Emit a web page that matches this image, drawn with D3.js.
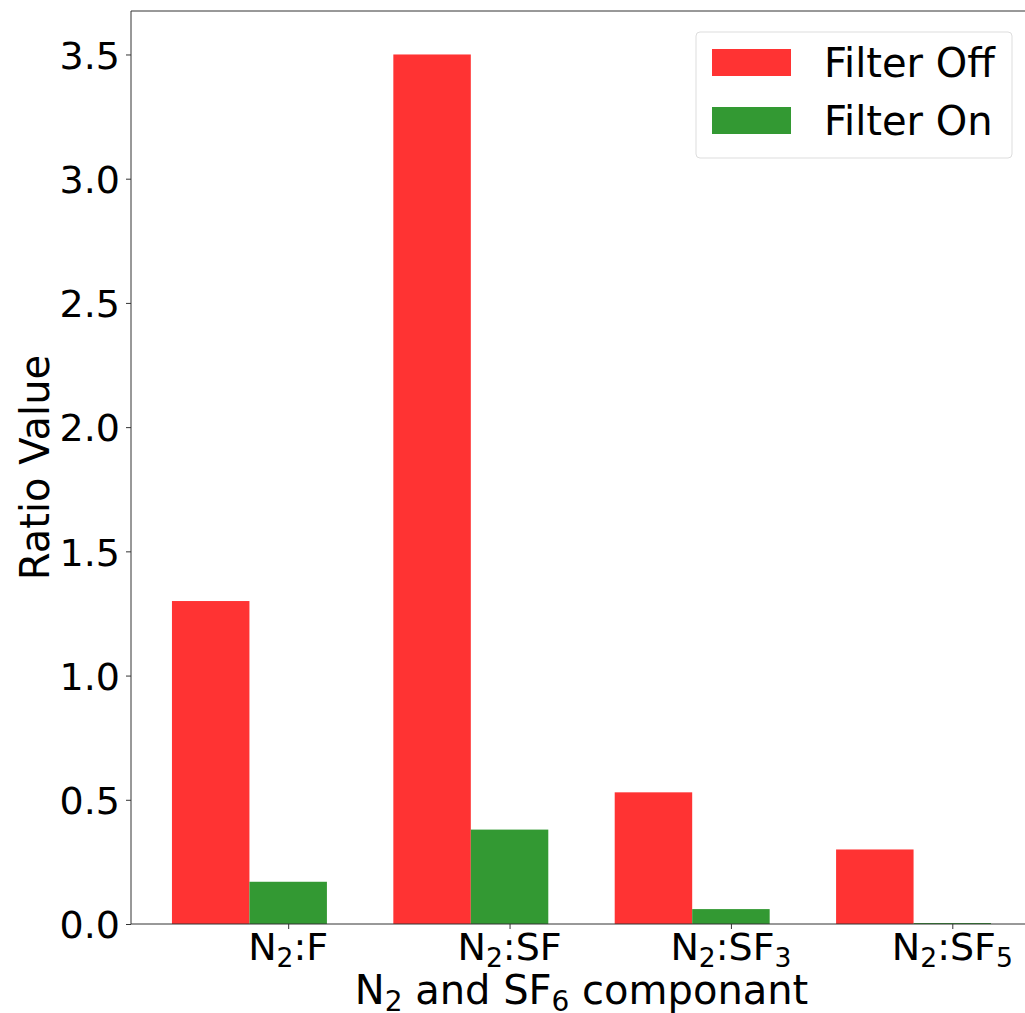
<!DOCTYPE html>
<html>
<head>
<meta charset="utf-8">
<script src="https://cdn.jsdelivr.net/npm/d3@7"></script>
<style>
  body { margin: 0; background: #fff; }
  text { font-family: "DejaVu Sans", sans-serif; fill: #000; }
</style>
</head>
<body>
<div id="chart"></div>
<script>
// chart data
const categories = [
  {main: "N", sub1: "2", rest: ":F", sub2: ""},
  {main: "N", sub1: "2", rest: ":SF", sub2: ""},
  {main: "N", sub1: "2", rest: ":SF", sub2: "3"},
  {main: "N", sub1: "2", rest: ":SF", sub2: "5"}
];
const filterOff = [1.30, 3.50, 0.53, 0.30];
const filterOn = [0.17, 0.38, 0.06, 0.004];
const yTicks = [0, 0.5, 1.0, 1.5, 2.0, 2.5, 3.0, 3.5];
const seriesNames = ["Filter Off", "Filter On"];
const seriesColors = ["#ff3333", "#339933"];

const width = 1025, height = 1013;
const m = {top: 11, left: 131, bottom: 924, right: 1032};
const fs = 38;      // tick labels
const fsBig = 40;   // titles and legend
const barW = 0.35;

const svg = d3.select("#chart").append("svg")
  .attr("width", width)
  .attr("height", height);

const x = d3.scaleLinear()
  .domain([-0.71, 3.36])
  .range([m.left, m.right]);

const y = d3.scaleLinear()
  .domain([0, 3.675])
  .range([m.bottom, m.top]);

// bars
const series = [filterOff, filterOn];
series.forEach((vals, s) => {
  svg.append("g")
    .selectAll("rect")
    .data(vals)
    .join("rect")
      .attr("x", (d, i) => x(i - barW * (1 - s) - barW / 2))
      .attr("width", x(barW) - x(0))
      .attr("y", d => y(d))
      .attr("height", d => y(0) - y(d))
      .attr("fill", seriesColors[s]);
});

// y axis
const yAxis = svg.append("g")
  .attr("transform", `translate(${m.left},0)`)
  .call(d3.axisLeft(y).tickValues(yTicks).tickFormat(d3.format(".1f")).tickSize(5).tickPadding(6));
yAxis.select(".domain").attr("stroke", "#333").attr("d", `M0,${m.bottom}V${m.top}`);
yAxis.selectAll(".tick line").attr("stroke", "#333");
yAxis.selectAll(".tick text")
  .style("font-size", fs + "px")
  .attr("dy", "0.36em");

// x axis
const xAxis = svg.append("g")
  .attr("transform", `translate(0,${m.bottom})`)
  .call(d3.axisBottom(x).tickValues(d3.range(categories.length)).tickFormat("").tickSize(5));
xAxis.select(".domain").attr("stroke", "#333").attr("d", `M${m.left},0H${m.right}`);
xAxis.selectAll(".tick line").attr("stroke", "#333");

// top spine
svg.append("line")
  .attr("x1", m.left).attr("x2", m.right)
  .attr("y1", m.top).attr("y2", m.top)
  .attr("stroke", "#333");

// labels with subscripts
function subText(sel, parts, size) {
  parts.forEach(p => {
    if (!p.t) return;
    const ts = sel.append("tspan").text(p.t);
    if (p.sub) ts.style("font-size", (size * 0.7) + "px").attr("dy", 7);
    else if (p.after) ts.attr("dy", -7);
  });
}

categories.forEach((c, i) => {
  const t = svg.append("text")
    .attr("x", x(i))
    .attr("y", 960)
    .attr("text-anchor", "middle")
    .style("font-size", fs + "px");
  const parts = [{t: c.main}, {t: c.sub1, sub: true}, {t: c.rest, after: true}];
  if (c.sub2) parts.push({t: c.sub2, sub: true});
  subText(t, parts, fs);
});

// x axis title
const xt = svg.append("text")
  .attr("x", (m.left + m.right) / 2)
  .attr("y", 1004)
  .attr("text-anchor", "middle")
  .style("font-size", fsBig + "px");
subText(xt, [{t: "N"}, {t: "2", sub: true}, {t: " and SF", after: true}, {t: "6", sub: true}, {t: " componant", after: true}], fsBig);

// y axis title
svg.append("text")
  .attr("transform", `translate(49,${(m.top + m.bottom) / 2}) rotate(-90)`)
  .attr("text-anchor", "middle")
  .style("font-size", fsBig + "px")
  .text("Ratio Value");

// legend
const lg = svg.append("g");
lg.append("rect")
  .attr("x", 696).attr("y", 32)
  .attr("width", 316).attr("height", 126)
  .attr("rx", 4)
  .attr("fill", "#fff")
  .attr("fill-opacity", 0.8)
  .attr("stroke", "#ddd");
seriesNames.forEach((name, i) => {
  lg.append("rect")
    .attr("x", 712).attr("y", 49 + i * 58)
    .attr("width", 79).attr("height", 27)
    .attr("fill", seriesColors[i]);
  lg.append("text")
    .attr("x", 824).attr("y", 77 + i * 58)
    .style("font-size", fsBig + "px")
    .text(name);
});
</script>
</body>
</html>
